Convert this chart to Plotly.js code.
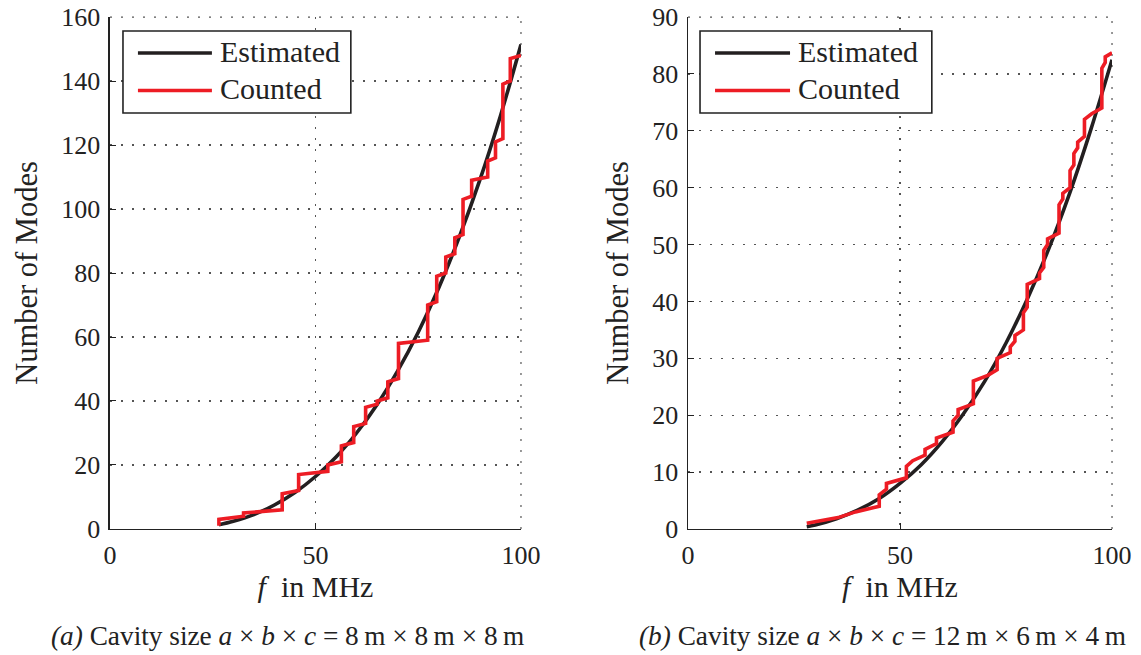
<!DOCTYPE html>
<html>
<head>
<meta charset="utf-8">
<script src="https://cdn.plot.ly/plotly-3.0.1.min.js"></script>
<style>html,body{margin:0;padding:0;background:#fff;}#chart{width:1141px;height:655px;}</style>
</head>
<body>
<div id="chart"></div>
<script>
// ---- Data ----
// (a) 8 m x 8 m x 8 m cavity
const fEstA = [26.5, 30, 35, 40, 45, 50, 55, 60, 65, 70, 75, 80, 85, 90, 95, 100];
const nEstA = [1.3, 2.4, 4.5, 7.5, 11.4, 16.4, 22.5, 30.0, 38.9, 49.4, 61.5, 75.4, 91.3, 109.1, 129.1, 151.4];
const fCntA = [26.5,26.5,32.5,32.5,41.9,41.9,45.9,45.9,53.0,53.0,56.3,56.3,59.3,59.3,62.2,62.2,65.0,65.0,67.6,67.6,70.2,70.2,77.3,77.3,79.5,79.5,81.7,81.7,83.9,83.9,85.9,85.9,88.0,88.0,91.9,91.9,93.8,93.8,95.6,95.6,97.4,97.4,100];
const nCntA = [1,3,4,5,6,11,12,17,18,20,21,26,27,32,33,38,39,40,41,46,47,58,59,70,71,79,80,85,86,91,92,103,104,109,110,115,116,121,122,139,140,147,148];

// (b) 12 m x 6 m x 4 m cavity
const fEstB = [28, 30, 35, 40, 45, 50, 55, 60, 65, 70, 75, 80, 85, 90, 95, 100];
const nEstB = [0.4, 0.7, 1.8, 3.3, 5.3, 8.0, 11.3, 15.4, 20.3, 26.0, 32.7, 40.4, 49.1, 59.0, 70.2, 82.5];
const fCntB = [28.0,35.4,39.5,45.1,45.1,46.8,46.8,51.5,51.5,53.0,55.9,55.9,58.6,58.6,62.5,62.5,63.7,63.7,67.3,67.3,70.7,72.9,72.9,76.0,76.0,77.1,77.1,79.1,79.1,80.0,80.0,82.9,82.9,83.9,83.9,84.8,84.8,87.5,87.5,88.4,88.4,90.1,90.1,91.0,91.0,91.9,91.9,93.5,93.5,95.2,97.6,97.6,98.4,98.4,100];
const nCntB = [1,2,3,4,6,7,8,9,11,12,13,14,15,16,17,19,20,21,22,26,27,28,30,31,32,33,34,35,38,39,43,44,45,46,49,50,51,52,57,58,59,60,63,64,66,67,68,69,72,73,74,81,82,83,83.7];

const xTicks = [0, 50, 100];
const yTicksA = [0, 20, 40, 60, 80, 100, 120, 140, 160];
const yTicksB = [0, 10, 20, 30, 40, 50, 60, 70, 80, 90];
const seriesNames = ['Estimated', 'Counted'];
const captionA = '<i>(a)</i> Cavity size <i>a</i> × <i>b</i> × <i>c</i> = 8\u2009m × 8\u2009m × 8\u2009m';
const captionB = '<i>(b)</i> Cavity size <i>a</i> × <i>b</i> × <i>c</i> = 12\u2009m × 6\u2009m × 4\u2009m';

// ---- Styling ----
const FONT = '"Liberation Serif", "DejaVu Serif", serif';
const BLACK = '#231f20';
const RED = '#ed1c24';
const AX = '#222222';
const GRID = '#555555';
const DOT = '2px,9px';

const traces = [
  {x: fEstA, y: nEstA, xaxis: 'x', yaxis: 'y', mode: 'lines', name: seriesNames[0], showlegend: false,
   line: {color: BLACK, width: 3.6, shape: 'spline'}},
  {x: fCntA, y: nCntA, xaxis: 'x', yaxis: 'y', mode: 'lines', name: seriesNames[1], showlegend: false,
   line: {color: RED, width: 3.6}},
  {x: fEstB, y: nEstB, xaxis: 'x2', yaxis: 'y2', mode: 'lines', name: seriesNames[0], showlegend: false,
   line: {color: BLACK, width: 3.6, shape: 'spline'}},
  {x: fCntB, y: nCntB, xaxis: 'x2', yaxis: 'y2', mode: 'lines', name: seriesNames[1], showlegend: false,
   line: {color: RED, width: 3.6}}
];

function xax(domain, anchor) {
  return {
    domain: domain, anchor: anchor, range: [0, 100], tickmode: 'array', tickvals: xTicks,
    showline: true, linecolor: AX, linewidth: 1.5, ticks: 'inside', ticklen: 6, tickcolor: AX, tickwidth: 1,
    showgrid: true, gridcolor: GRID, gridwidth: 1.2, griddash: DOT, zeroline: false,
    tickfont: {family: FONT, size: 26, color: AX}, automargin: false, ticklabelstandoff: 2,
    title: {text: '<i>f</i>\u00a0\u00a0in MHz', font: {family: FONT, size: 30, color: AX}, standoff: 7}
  };
}
function yax(domain, anchor, range, ticks) {
  return {
    domain: domain, anchor: anchor, range: range, tickmode: 'array', tickvals: ticks,
    showline: true, linecolor: AX, linewidth: 1.5, ticks: 'inside', ticklen: 6, tickcolor: AX, tickwidth: 1,
    showgrid: true, gridcolor: GRID, gridwidth: 1.2, griddash: DOT, zeroline: false,
    tickfont: {family: FONT, size: 26, color: AX}, automargin: false, ticklabelstandoff: 3,
    title: {text: 'Number of Modes', font: {family: FONT, size: 30.5, color: AX}, standoff: 14}
  };
}

const yDom = [0.1924, 0.974];
const xDomA = [0.0964, 0.4566];
const xDomB = [0.603, 0.9746];

// edge grid lines (top and right) that Plotly does not draw at the range ends
function edgeGrid(xr, yr) {
  return [
    {type: 'line', xref: xr, yref: yr, x0: 0, x1: 1, y0: 1, y1: 1,
     line: {color: GRID, width: 1.2, dash: DOT}, layer: 'below'},
    {type: 'line', xref: xr, yref: yr, x0: 1, x1: 1, y0: 0, y1: 1,
     line: {color: GRID, width: 1.2, dash: DOT}, layer: 'below'}
  ];
}

// legend built from shapes + annotations (long legend lines as in reference)
function legend(xr, yr, bx0, bx1, lx0, lx1, tx) {
  const shapes = [
    {type: 'rect', xref: xr, yref: yr, x0: bx0, x1: bx1, y0: 0.8125, y1: 0.9727,
     line: {color: AX, width: 1.6}, fillcolor: '#ffffff', layer: 'above'},
    {type: 'line', xref: xr, yref: yr, x0: lx0, x1: lx1, y0: 0.9297, y1: 0.9297,
     line: {color: BLACK, width: 3.6}, layer: 'above'},
    {type: 'line', xref: xr, yref: yr, x0: lx0, x1: lx1, y0: 0.8564, y1: 0.8564,
     line: {color: RED, width: 3.6}, layer: 'above'}
  ];
  const anns = [
    {xref: xr, yref: yr, x: tx, y: 0.9336, xanchor: 'left', yanchor: 'middle', showarrow: false,
     text: seriesNames[0], font: {family: FONT, size: 30, color: AX}},
    {xref: xr, yref: yr, x: tx, y: 0.8604, xanchor: 'left', yanchor: 'middle', showarrow: false,
     text: seriesNames[1], font: {family: FONT, size: 30, color: AX}}
  ];
  return {shapes, anns};
}
const legA = legend('x domain', 'y domain', 0.0316, 0.586, 0.068, 0.248, 0.262);
const legB = legend('x2 domain', 'y2 domain', 0.0283, 0.575, 0.0637, 0.2406, 0.254);

const layout = {
  width: 1141, height: 655,
  margin: {l: 0, r: 0, t: 0, b: 0},
  paper_bgcolor: '#ffffff', plot_bgcolor: '#ffffff',
  showlegend: false,
  font: {family: FONT, color: AX},
  xaxis: xax(xDomA, 'y'),
  yaxis: yax(yDom, 'x', [0, 160], yTicksA),
  xaxis2: xax(xDomB, 'y2'),
  yaxis2: yax(yDom, 'x2', [0, 90], yTicksB),
  shapes: edgeGrid('x domain', 'y domain').concat(edgeGrid('x2 domain', 'y2 domain'))
    .concat(legA.shapes).concat(legB.shapes),
  annotations: legA.anns.concat(legB.anns).concat([
    {xref: 'paper', yref: 'paper', x: 287 / 1141, y: (655 - 636) / 655, xanchor: 'center', yanchor: 'middle',
     showarrow: false, text: captionA, font: {family: FONT, size: 27.3, color: AX}},
    {xref: 'paper', yref: 'paper', x: 882 / 1141, y: (655 - 636) / 655, xanchor: 'center', yanchor: 'middle',
     showarrow: false, text: captionB, font: {family: FONT, size: 27.3, color: AX}}
  ])
};

Plotly.newPlot('chart', traces, layout, {staticPlot: true, displayModeBar: false});
</script>
</body>
</html>
